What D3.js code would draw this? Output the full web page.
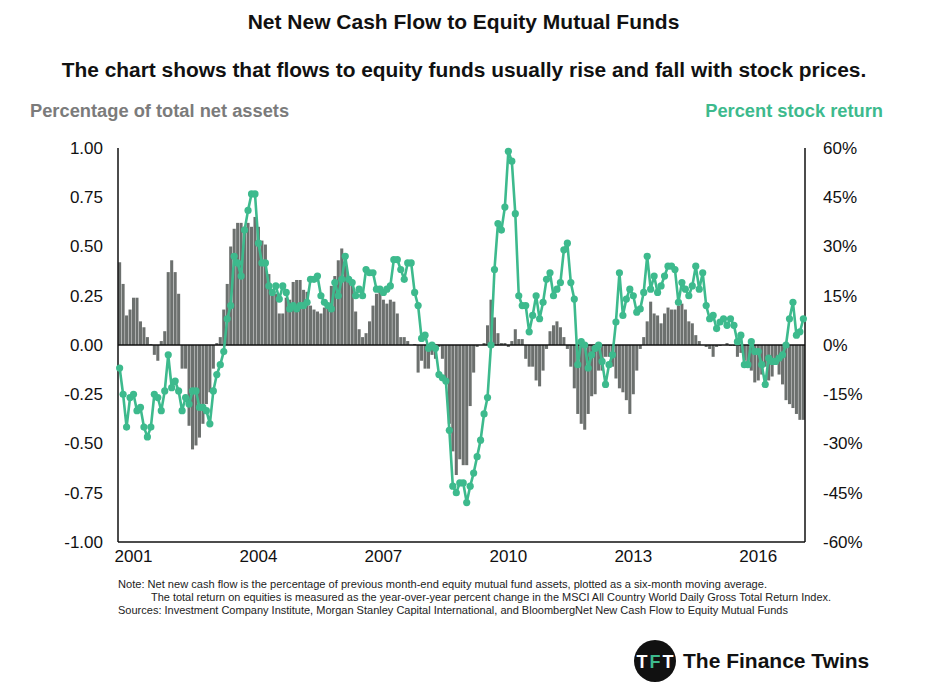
<!DOCTYPE html>
<html><head><meta charset="utf-8">
<script src="https://cdn.jsdelivr.net/npm/d3@7"></script>
<style>
body{margin:0;background:#fff;}
svg{display:block;font-family:"Liberation Sans",Arial,Helvetica,sans-serif;}
</style></head>
<body>
<svg id="chart" width="927" height="688"></svg>
<script>
// ---- data ----
const startMonth = "2000-09";   // first monthly category
const yearLabels = ["2001","2004","2007","2010","2013","2016"];
const leftTicks = [1.00,0.75,0.50,0.25,0.00,-0.25,-0.50,-0.75,-1.00];
const rightTicks = [60,45,30,15,0,-15,-30,-45,-60];

// Net new cash flow, % of total net assets (six-month moving average)
const netFlow = [
 0.42,0.31,0.15,0.18,0.24,0.24,0.12,0.09,0.04,0.005,
 -0.05,-0.08,0.02,0.07,0.37,0.43,0.37,0.26,-0.12,-0.12,
 -0.41,-0.53,-0.51,-0.47,-0.40,-0.30,-0.24,-0.12,0.01,0.04,
 0.18,0.31,0.50,0.59,0.62,0.62,0.60,0.62,0.60,0.65,
 0.60,0.53,0.51,0.36,0.26,0.26,0.16,0.16,0.24,0.23,
 0.32,0.33,0.33,0.28,0.27,0.20,0.18,0.17,0.16,0.19,
 0.21,0.30,0.35,0.43,0.49,0.42,0.35,0.30,0.17,0.08,
 0.04,0.06,0.12,0.20,0.26,0.28,0.23,0.21,0.23,0.22,
 0.16,0.04,0.04,0.02,0.00,0.005,-0.14,-0.08,-0.12,-0.12,
 -0.05,-0.07,-0.01,-0.07,-0.17,-0.40,-0.54,-0.66,-0.58,-0.61,
 -0.61,-0.31,-0.14,-0.01,0.00,0.01,0.10,0.23,0.14,0.06,
 0.01,0.01,-0.01,0.02,0.08,0.03,0.03,-0.07,-0.11,-0.11,
 -0.18,-0.21,-0.13,-0.02,0.07,0.10,0.12,0.09,0.04,-0.02,
 -0.11,-0.22,-0.35,-0.40,-0.43,-0.35,-0.26,-0.25,-0.13,-0.13,
 -0.06,-0.06,-0.11,-0.17,-0.22,-0.24,-0.28,-0.35,-0.25,-0.13,
 -0.02,0.04,0.12,0.22,0.16,0.15,0.11,0.16,0.19,0.18,
 0.18,0.20,0.21,0.18,0.12,0.11,0.05,0.02,0.00,-0.01,
 -0.02,-0.06,-0.01,-0.005,0.00,0.01,-0.005,-0.005,-0.06,-0.04,
 -0.08,-0.09,-0.13,-0.19,-0.18,-0.15,-0.11,-0.18,-0.16,-0.08,
 -0.15,-0.20,-0.28,-0.30,-0.32,-0.35,-0.38,-0.38
];

// Stock return, year-over-year percent
const stockReturn = [
 -7,-15,-25,-16,-15,-20,-19,-25,-28,-25,
 -15,-16,-20,-14,-3,-13,-11,-14,-20,-16,
 -18,-14,-14,-19,-19,-20,-24,-14,-9,-6,
 -2,8,12,27,25,21,35,41,46,46,
 31,25,25,18,16,18,14,18,16,11,
 12,11,12,12,13,20,20,21,15,13,
 12,11,19,15,20,27,20,19,15,17,
 15,23,22,22,17,17,16,17,18,26,
 26,23,20,25,25,16,12,2,3,-1,
 0,-1,-9,-10,-11,-26,-43,-45,-42,-42,
 -48,-43,-39,-34,-29,-21,-16,0,23,37,
 35,42,59,56,40,15,12,12,4,9,
 15,8,13,20,22,15,17,19,29,31,
 19,14,-6,1,0,-7,-3,-1,0,-5,
 -12,-6,-3,7,22,9,14,17,15,10,
 11,16,27,17,21,16,18,21,24,24,
 23,13,19,17,15,18,24,17,22,12,
 8,9,5,7,8,6,8,6,1,3,
 -6,-6,1,-2,-2,-6,-12,-4,-5,-5,
 -4,-3,0,8,13,3,4,8
];

// ---- categories (months) ----
const parseM = d3.timeParse("%Y-%m");
const fmtM = d3.timeFormat("%Y-%m");
const months = d3.range(netFlow.length).map(i => fmtM(d3.timeMonth.offset(parseM(startMonth), i)));

const svg = d3.select("#chart");
const m = {left:118, right:805, top:148, bottom:542};
const barColor = "#6c706e", green = "#3dba8d";

const x = d3.scaleBand().domain(months).range([m.left, m.right]).paddingInner(0.12).paddingOuter(0.03);
const yL = d3.scaleLinear().domain([-1,1]).range([m.bottom, m.top]);
const yR = d3.scaleLinear().domain([-60,60]).range([m.bottom, m.top]);
const cx = d => x(d) + x.bandwidth()/2;

// titles
svg.append("text").attr("x",463.5).attr("y",29).attr("text-anchor","middle")
  .attr("font-size",21).attr("font-weight","bold").attr("fill","#111")
  .text("Net New Cash Flow to Equity Mutual Funds");
svg.append("text").attr("x",464).attr("y",77).attr("text-anchor","middle")
  .attr("font-size",20.9).attr("font-weight","bold").attr("fill","#111")
  .text("The chart shows that flows to equity funds usually rise and fall with stock prices.");
svg.append("text").attr("x",30).attr("y",117).attr("font-size",18.3).attr("font-weight","bold")
  .attr("fill","#7b7b7b").text("Percentage of total net assets");
svg.append("text").attr("x",883).attr("y",117).attr("text-anchor","end").attr("font-size",18.3)
  .attr("font-weight","bold").attr("fill",green).text("Percent stock return");

// bars
svg.append("g").selectAll("rect").data(months).join("rect")
  .attr("x", d => x(d))
  .attr("width", x.bandwidth())
  .attr("y", (d,i) => yL(Math.max(0, netFlow[i])))
  .attr("height", (d,i) => Math.abs(yL(netFlow[i]) - yL(0)))
  .attr("fill", barColor);

// axes
const axL = svg.append("g").attr("transform",`translate(${m.left},0)`)
  .call(d3.axisLeft(yL).tickValues(leftTicks).tickSize(0).tickPadding(15)
    .tickFormat(d => d.toFixed(2)));
const axR = svg.append("g").attr("transform",`translate(${m.right},0)`)
  .call(d3.axisRight(yR).tickValues(rightTicks).tickSize(0).tickPadding(18)
    .tickFormat(d => d + "%"));
const yearTicks = months.filter(d => d.endsWith("-01") && yearLabels.includes(d.slice(0,4)));
const axB = svg.append("g").attr("transform",`translate(0,${m.bottom})`)
  .call(d3.axisBottom(x).tickValues(yearTicks).tickSize(0).tickPadding(8)
    .tickFormat(d => d.slice(0,4)));
[axL,axR,axB].forEach(a => {
  a.selectAll("text").attr("font-size",17).attr("fill","#111")
   .attr("font-family","'Liberation Sans',Arial,sans-serif");
  a.select(".domain").attr("stroke","#111").attr("stroke-width",1.5);
});
axB.select(".domain").attr("d",`M${m.left},0H${m.right}`);
axL.select(".domain").attr("d",`M0,${m.top}V${m.bottom}`);
axR.select(".domain").attr("d",`M0,${m.top}V${m.bottom}`);

// zero line
svg.append("line").attr("x1",m.left).attr("x2",m.right)
  .attr("y1",yL(0)).attr("y2",yL(0)).attr("stroke","#111").attr("stroke-width",1.5);

// stock-return line
const line = d3.line().x((d,i) => cx(months[i])).y(d => yR(d));
svg.append("path").datum(stockReturn).attr("d",line)
  .attr("fill","none").attr("stroke",green).attr("stroke-width",2.6).attr("stroke-linejoin","round");
svg.append("g").selectAll("circle").data(stockReturn).join("circle")
  .attr("cx",(d,i) => cx(months[i])).attr("cy", d => yR(d)).attr("r",3.6).attr("fill",green);

// notes
const notes = svg.append("g").attr("font-size",10.5).attr("fill","#222")
  .attr("font-family","'Liberation Sans Narrow','Liberation Sans',Arial,sans-serif");
notes.append("text").attr("x",118).attr("y",588).attr("textLength",649).attr("lengthAdjust","spacingAndGlyphs")
  .text("Note: Net new cash flow is the percentage of previous month-end equity mutual fund assets, plotted as a six-month moving average.");
notes.append("text").attr("x",151).attr("y",601).attr("textLength",680).attr("lengthAdjust","spacingAndGlyphs")
  .text("The total return on equities is measured as the year-over-year percent change in the MSCI All Country World Daily Gross Total Return Index.");
notes.append("text").attr("x",118).attr("y",614).attr("textLength",670).attr("lengthAdjust","spacingAndGlyphs")
  .text("Sources: Investment Company Institute, Morgan Stanley Capital International, and BloombergNet New Cash Flow to Equity Mutual Funds");

// logo
const logo = svg.append("g");
logo.append("circle").attr("cx",655).attr("cy",661).attr("r",21).attr("fill","#111");
const logoLetters = [{t:"T",x:642,c:"#fff"},{t:"F",x:655,c:green},{t:"T",x:668,c:"#fff"}];
logo.selectAll("text.l").data(logoLetters).join("text").attr("class","l")
  .attr("x",d => d.x).attr("y",668).attr("text-anchor","middle")
  .attr("font-size",18).attr("font-weight","bold").attr("fill",d => d.c)
  .attr("font-family","'Liberation Sans Narrow','Liberation Sans',sans-serif")
  .text(d => d.t);
logo.append("text").attr("x",683).attr("y",668).attr("font-size",21).attr("font-weight","bold")
  .attr("fill","#111").text("The Finance Twins");
</script>
</body></html>
